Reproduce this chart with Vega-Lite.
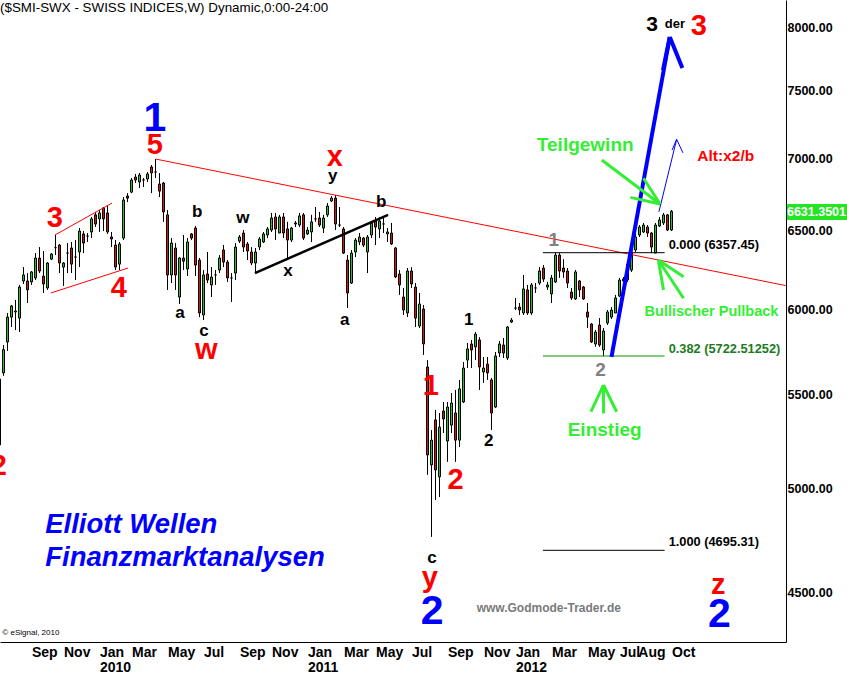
{
"$schema":"https://vega.github.io/schema/vega-lite/v6.json",
"width":786,"height":642,
"autosize":{"type":"none"},
"padding":{"left":0,"top":0,"right":61,"bottom":31},
"background":"white",
"config":{"view":{"stroke":null},"font":"Liberation Sans"},
"title":{"text":"($SMI-SWX - SWISS INDICES,W) Dynamic,0:00-24:00","anchor":"start","frame":"group","orient":"top","offset":-14,"fontSize":13.4,"fontWeight":"normal","font":"Liberation Sans","color":"#000"},
"datasets":{
"candles":[
{"d":"2009-07-13","o":5227,"h":5600,"l":5215,"c":5590},
{"d":"2009-07-20","o":5625,"h":5787,"l":5608,"c":5760},
{"d":"2009-07-27","o":5805,"h":5979,"l":5752,"c":5954},
{"d":"2009-08-03","o":5954,"h":6028,"l":5894,"c":6022},
{"d":"2009-08-10","o":5985,"h":6059,"l":5876,"c":5991},
{"d":"2009-08-17","o":5948,"h":6152,"l":5864,"c":6139},
{"d":"2009-08-24","o":6177,"h":6265,"l":6158,"c":6215},
{"d":"2009-08-31","o":6177,"h":6227,"l":6040,"c":6121},
{"d":"2009-09-07","o":6171,"h":6240,"l":6152,"c":6234},
{"d":"2009-09-14","o":6196,"h":6355,"l":6183,"c":6323},
{"d":"2009-09-21","o":6323,"h":6394,"l":6227,"c":6240},
{"d":"2009-09-28","o":6208,"h":6368,"l":6102,"c":6158},
{"d":"2009-10-05","o":6133,"h":6297,"l":6121,"c":6291},
{"d":"2009-10-12","o":6316,"h":6355,"l":6310,"c":6349},
{"d":"2009-10-19","o":6390,"h":6473,"l":6342,"c":6390},
{"d":"2009-10-26","o":6407,"h":6414,"l":6227,"c":6291},
{"d":"2009-11-02","o":6265,"h":6297,"l":6146,"c":6291},
{"d":"2009-11-09","o":6355,"h":6420,"l":6227,"c":6355},
{"d":"2009-11-16","o":6388,"h":6427,"l":6227,"c":6284},
{"d":"2009-11-23","o":6329,"h":6440,"l":6183,"c":6329},
{"d":"2009-11-30","o":6362,"h":6519,"l":6265,"c":6499},
{"d":"2009-12-07","o":6480,"h":6499,"l":6355,"c":6420},
{"d":"2009-12-14","o":6466,"h":6486,"l":6427,"c":6466},
{"d":"2009-12-21","o":6493,"h":6593,"l":6453,"c":6580},
{"d":"2009-12-28","o":6607,"h":6627,"l":6526,"c":6546},
{"d":"2010-01-04","o":6580,"h":6640,"l":6493,"c":6620},
{"d":"2010-01-11","o":6654,"h":6660,"l":6499,"c":6580},
{"d":"2010-01-18","o":6620,"h":6674,"l":6480,"c":6493},
{"d":"2010-01-25","o":6460,"h":6493,"l":6394,"c":6447},
{"d":"2010-02-01","o":6407,"h":6440,"l":6246,"c":6265},
{"d":"2010-02-08","o":6284,"h":6427,"l":6246,"c":6414},
{"d":"2010-02-15","o":6453,"h":6728,"l":6440,"c":6708},
{"d":"2010-02-22","o":6735,"h":6755,"l":6694,"c":6721},
{"d":"2010-03-01","o":6762,"h":6860,"l":6755,"c":6846},
{"d":"2010-03-08","o":6867,"h":6888,"l":6825,"c":6846},
{"d":"2010-03-15","o":6832,"h":6895,"l":6790,"c":6881},
{"d":"2010-03-22","o":6846,"h":6860,"l":6797,"c":6846},
{"d":"2010-03-29","o":6853,"h":6902,"l":6832,"c":6888},
{"d":"2010-04-05","o":6937,"h":6951,"l":6755,"c":6895},
{"d":"2010-04-12","o":6902,"h":6994,"l":6860,"c":6902},
{"d":"2010-04-19","o":6818,"h":6895,"l":6728,"c":6769},
{"d":"2010-04-26","o":6825,"h":6832,"l":6560,"c":6627},
{"d":"2010-05-03","o":6607,"h":6640,"l":6121,"c":6215},
{"d":"2010-05-10","o":6215,"h":6453,"l":6164,"c":6420},
{"d":"2010-05-17","o":6388,"h":6420,"l":6121,"c":6215},
{"d":"2010-05-24","o":6077,"h":6329,"l":6034,"c":6323},
{"d":"2010-05-31","o":6323,"h":6473,"l":6246,"c":6303},
{"d":"2010-06-07","o":6253,"h":6453,"l":6208,"c":6427},
{"d":"2010-06-14","o":6480,"h":6486,"l":6440,"c":6453},
{"d":"2010-06-21","o":6519,"h":6533,"l":6208,"c":6278},
{"d":"2010-06-28","o":6310,"h":6323,"l":5954,"c":5979},
{"d":"2010-07-05","o":5967,"h":6246,"l":5936,"c":6215},
{"d":"2010-07-12","o":6221,"h":6362,"l":6164,"c":6183},
{"d":"2010-07-19","o":6152,"h":6265,"l":6077,"c":6202},
{"d":"2010-07-26","o":6215,"h":6246,"l":6152,"c":6215},
{"d":"2010-08-02","o":6246,"h":6342,"l":6227,"c":6323},
{"d":"2010-08-09","o":6375,"h":6407,"l":6265,"c":6297},
{"d":"2010-08-16","o":6297,"h":6310,"l":6171,"c":6196},
{"d":"2010-08-23","o":6196,"h":6227,"l":6046,"c":6196},
{"d":"2010-08-30","o":6227,"h":6420,"l":6183,"c":6394},
{"d":"2010-09-06","o":6433,"h":6473,"l":6420,"c":6460},
{"d":"2010-09-13","o":6486,"h":6506,"l":6362,"c":6394},
{"d":"2010-09-20","o":6414,"h":6427,"l":6310,"c":6368},
{"d":"2010-09-27","o":6362,"h":6394,"l":6278,"c":6291},
{"d":"2010-10-04","o":6291,"h":6388,"l":6227,"c":6362},
{"d":"2010-10-11","o":6394,"h":6460,"l":6375,"c":6447},
{"d":"2010-10-18","o":6427,"h":6493,"l":6420,"c":6480},
{"d":"2010-10-25","o":6473,"h":6526,"l":6453,"c":6513},
{"d":"2010-11-01","o":6506,"h":6620,"l":6493,"c":6586},
{"d":"2010-11-08","o":6593,"h":6620,"l":6440,"c":6513},
{"d":"2010-11-15","o":6486,"h":6607,"l":6486,"c":6593},
{"d":"2010-11-22","o":6593,"h":6620,"l":6453,"c":6486},
{"d":"2010-11-29","o":6513,"h":6560,"l":6310,"c":6440},
{"d":"2010-12-06","o":6440,"h":6526,"l":6427,"c":6519},
{"d":"2010-12-13","o":6553,"h":6566,"l":6526,"c":6546},
{"d":"2010-12-20","o":6539,"h":6620,"l":6526,"c":6600},
{"d":"2010-12-27","o":6607,"h":6620,"l":6440,"c":6453},
{"d":"2011-01-03","o":6480,"h":6526,"l":6473,"c":6506},
{"d":"2011-01-10","o":6493,"h":6607,"l":6427,"c":6560},
{"d":"2011-01-17","o":6580,"h":6660,"l":6560,"c":6580},
{"d":"2011-01-24","o":6586,"h":6627,"l":6526,"c":6539},
{"d":"2011-01-31","o":6519,"h":6607,"l":6486,"c":6586},
{"d":"2011-02-07","o":6607,"h":6687,"l":6593,"c":6667},
{"d":"2011-02-14","o":6701,"h":6735,"l":6694,"c":6721},
{"d":"2011-02-21","o":6721,"h":6742,"l":6506,"c":6546},
{"d":"2011-02-28","o":6539,"h":6660,"l":6526,"c":6539},
{"d":"2011-03-07","o":6513,"h":6526,"l":6349,"c":6355},
{"d":"2011-03-14","o":6310,"h":6342,"l":6009,"c":6102},
{"d":"2011-03-21","o":6164,"h":6375,"l":6158,"c":6355},
{"d":"2011-03-28","o":6362,"h":6453,"l":6329,"c":6440},
{"d":"2011-04-04","o":6427,"h":6486,"l":6407,"c":6460},
{"d":"2011-04-11","o":6453,"h":6460,"l":6394,"c":6407},
{"d":"2011-04-18","o":6362,"h":6473,"l":6227,"c":6460},
{"d":"2011-04-25","o":6473,"h":6560,"l":6453,"c":6553},
{"d":"2011-05-02","o":6566,"h":6593,"l":6407,"c":6526},
{"d":"2011-05-09","o":6513,"h":6593,"l":6453,"c":6566},
{"d":"2011-05-16","o":6546,"h":6593,"l":6486,"c":6546},
{"d":"2011-05-23","o":6480,"h":6519,"l":6427,"c":6493},
{"d":"2011-05-30","o":6486,"h":6553,"l":6407,"c":6414},
{"d":"2011-06-06","o":6388,"h":6394,"l":6196,"c":6202},
{"d":"2011-06-13","o":6221,"h":6246,"l":6090,"c":6152},
{"d":"2011-06-20","o":6077,"h":6133,"l":5967,"c":5997},
{"d":"2011-06-27","o":5979,"h":6259,"l":5954,"c":6240},
{"d":"2011-07-04","o":6240,"h":6265,"l":6133,"c":6158},
{"d":"2011-07-11","o":6139,"h":6164,"l":5894,"c":5948},
{"d":"2011-07-18","o":5900,"h":6102,"l":5888,"c":6034},
{"d":"2011-07-25","o":6003,"h":6028,"l":5729,"c":5793},
{"d":"2011-08-01","o":5659,"h":5699,"l":5070,"c":5174},
{"d":"2011-08-08","o":5122,"h":5307,"l":4760,"c":5253},
{"d":"2011-08-15","o":5362,"h":5417,"l":4942,"c":5096},
{"d":"2011-08-22","o":5060,"h":5400,"l":4957,"c":5323},
{"d":"2011-08-29","o":5411,"h":5461,"l":5291,"c":5367},
{"d":"2011-09-05","o":5248,"h":5461,"l":5138,"c":5433},
{"d":"2011-09-12","o":5334,"h":5511,"l":5291,"c":5455},
{"d":"2011-09-19","o":5400,"h":5528,"l":5138,"c":5253},
{"d":"2011-09-26","o":5253,"h":5585,"l":5216,"c":5534},
{"d":"2011-10-03","o":5461,"h":5688,"l":5455,"c":5653},
{"d":"2011-10-10","o":5699,"h":5799,"l":5653,"c":5764},
{"d":"2011-10-17","o":5793,"h":5817,"l":5653,"c":5758},
{"d":"2011-10-24","o":5776,"h":5864,"l":5699,"c":5852},
{"d":"2011-10-31","o":5817,"h":5834,"l":5528,"c":5659},
{"d":"2011-11-07","o":5630,"h":5717,"l":5568,"c":5653},
{"d":"2011-11-14","o":5676,"h":5717,"l":5585,"c":5625},
{"d":"2011-11-21","o":5585,"h":5596,"l":5307,"c":5400},
{"d":"2011-11-28","o":5433,"h":5746,"l":5427,"c":5723},
{"d":"2011-12-05","o":5740,"h":5811,"l":5717,"c":5793},
{"d":"2011-12-12","o":5787,"h":5829,"l":5711,"c":5740},
{"d":"2011-12-19","o":5711,"h":5900,"l":5699,"c":5894},
{"d":"2011-12-26","o":5924,"h":5948,"l":5918,"c":5936},
{"d":"2012-01-02","o":6009,"h":6071,"l":5997,"c":6009},
{"d":"2012-01-09","o":6015,"h":6040,"l":5967,"c":5997},
{"d":"2012-01-16","o":5979,"h":6215,"l":5967,"c":6127},
{"d":"2012-01-23","o":6121,"h":6152,"l":5967,"c":5979},
{"d":"2012-01-30","o":5979,"h":6164,"l":5967,"c":6152},
{"d":"2012-02-06","o":6133,"h":6164,"l":6102,"c":6133},
{"d":"2012-02-13","o":6164,"h":6265,"l":6152,"c":6240},
{"d":"2012-02-20","o":6259,"h":6278,"l":6171,"c":6189},
{"d":"2012-02-27","o":6139,"h":6171,"l":6121,"c":6152},
{"d":"2012-03-05","o":6096,"h":6215,"l":6040,"c":6196},
{"d":"2012-03-12","o":6171,"h":6357,"l":6164,"c":6342},
{"d":"2012-03-19","o":6342,"h":6355,"l":6196,"c":6240},
{"d":"2012-03-26","o":6259,"h":6316,"l":6196,"c":6234},
{"d":"2012-04-02","o":6240,"h":6259,"l":6133,"c":6164},
{"d":"2012-04-09","o":6108,"h":6133,"l":6059,"c":6071},
{"d":"2012-04-16","o":6065,"h":6246,"l":6059,"c":6234},
{"d":"2012-04-23","o":6177,"h":6183,"l":6077,"c":6121},
{"d":"2012-04-30","o":6139,"h":6146,"l":6059,"c":6065},
{"d":"2012-05-07","o":5985,"h":6040,"l":5888,"c":5954},
{"d":"2012-05-14","o":5912,"h":5918,"l":5799,"c":5805},
{"d":"2012-05-21","o":5793,"h":5876,"l":5776,"c":5864},
{"d":"2012-05-28","o":5906,"h":5948,"l":5776,"c":5787},
{"d":"2012-06-04","o":5758,"h":5888,"l":5722,"c":5870},
{"d":"2012-06-11","o":5918,"h":5997,"l":5906,"c":5985},
{"d":"2012-06-18","o":5954,"h":6015,"l":5942,"c":5997},
{"d":"2012-06-25","o":5979,"h":6090,"l":5979,"c":6071},
{"d":"2012-07-02","o":6083,"h":6196,"l":6077,"c":6183},
{"d":"2012-07-09","o":6189,"h":6202,"l":6171,"c":6177},
{"d":"2012-07-16","o":6183,"h":6291,"l":6171,"c":6284},
{"d":"2012-07-23","o":6246,"h":6362,"l":6234,"c":6355},
{"d":"2012-07-30","o":6375,"h":6486,"l":6362,"c":6460},
{"d":"2012-08-06","o":6473,"h":6539,"l":6460,"c":6526},
{"d":"2012-08-13","o":6493,"h":6553,"l":6486,"c":6539},
{"d":"2012-08-20","o":6526,"h":6539,"l":6460,"c":6486},
{"d":"2012-08-27","o":6486,"h":6493,"l":6355,"c":6394},
{"d":"2012-09-03","o":6355,"h":6553,"l":6355,"c":6539},
{"d":"2012-09-10","o":6533,"h":6593,"l":6526,"c":6573},
{"d":"2012-09-17","o":6553,"h":6620,"l":6539,"c":6607},
{"d":"2012-09-24","o":6607,"h":6613,"l":6499,"c":6506},
{"d":"2012-10-01","o":6506,"h":6640,"l":6499,"c":6631.35}
],
"segments":[
{"d1":"2010-04-13","v1":6993,"d2":"2013-04-19","v2":6148,"kind":"red"},
{"d1":"2009-10-18","v1":6473,"d2":"2010-01-26","v2":6687,"kind":"red"},
{"d1":"2009-10-11","v1":6102,"d2":"2010-02-23","v2":6259,"kind":"red"},
{"d1":"2010-10-03","v1":6227,"d2":"2011-05-24","v2":6607,"kind":"blackThick"},
{"d1":"2012-06-18","v1":5718,"d2":"2012-09-28","v2":7919,"kind":"blueThick"},
{"d1":"2012-09-16","v1":7657,"d2":"2012-09-28","v2":7919,"kind":"blueThick"},
{"d1":"2012-10-20","v1":7673,"d2":"2012-09-28","v2":7919,"kind":"blueThick"},
{"d1":"2012-09-09","v1":6628,"d2":"2012-10-10","v2":7135,"kind":"blueThin"},
{"d1":"2012-10-02","v1":7058,"d2":"2012-10-10","v2":7135,"kind":"blueThin"},
{"d1":"2012-10-21","v1":7038,"d2":"2012-10-10","v2":7135,"kind":"blueThin"},
{"d1":"2012-02-19","v1":6357.45,"d2":"2012-09-19","v2":6357.45,"kind":"fibBlack"},
{"d1":"2012-02-19","v1":4695.31,"d2":"2012-09-19","v2":4695.31,"kind":"fibBlack"},
{"d1":"2012-02-19","v1":5722.51,"d2":"2012-09-19","v2":5722.51,"kind":"fibGreen"},
{"d1":"2012-06-01","v1":6987,"d2":"2012-09-11","v2":6681,"kind":"arrow"},
{"d1":"2012-08-13","v1":6858,"d2":"2012-09-11","v2":6681,"kind":"arrow"},
{"d1":"2012-07-21","v1":6726,"d2":"2012-09-11","v2":6681,"kind":"arrow"},
{"d1":"2012-09-08","v1":6310,"d2":"2012-10-22","v2":6204,"kind":"arrow"},
{"d1":"2012-09-08","v1":6310,"d2":"2012-09-17","v2":6121,"kind":"arrow"},
{"d1":"2012-09-08","v1":6310,"d2":"2012-10-22","v2":6069,"kind":"arrow"},
{"d1":"2012-06-04","v1":5556,"d2":"2012-05-13","v2":5407,"kind":"arrow"},
{"d1":"2012-06-04","v1":5556,"d2":"2012-06-04","v2":5398,"kind":"arrow"},
{"d1":"2012-06-04","v1":5556,"d2":"2012-06-27","v2":5407,"kind":"arrow"}
],
"labels":[
{"d":"2010-04-11","v":7288,"t":"1","kind":"blueBig"},
{"d":"2011-08-09","v":4410,"t":"2","kind":"blueBig"},
{"d":"2012-12-24","v":4396,"t":"2","kind":"blueBig"},
{"d":"2010-04-11","v":7095,"t":"5","kind":"redBig"},
{"d":"2009-10-18","v":6586,"t":"3","kind":"redBig"},
{"d":"2010-02-07","v":6133,"t":"4","kind":"redBig"},
{"d":"2010-07-10","v":5758,"t":"w","kind":"redBig"},
{"d":"2011-02-20","v":7008,"t":"x","kind":"redBig"},
{"d":"2011-08-07","v":5551,"t":"1","kind":"redBig"},
{"d":"2011-09-19","v":5044,"t":"2","kind":"redBig"},
{"d":"2011-08-05","v":4565,"t":"y","kind":"redBig"},
{"d":"2012-12-22","v":4533,"t":"z","kind":"redBig"},
{"d":"2012-11-18","v":8008,"t":"3","kind":"redBig"},
{"d":"2009-07-12","v":5116,"t":"2","kind":"redBig"},
{"d":"2010-06-24","v":6627,"t":"b","kind":"black"},
{"d":"2010-05-25","v":5979,"t":"a","kind":"black"},
{"d":"2010-07-06","v":5870,"t":"c","kind":"black"},
{"d":"2010-09-12","v":6586,"t":"w","kind":"black"},
{"d":"2010-11-30","v":6240,"t":"x","kind":"black"},
{"d":"2011-02-16","v":6874,"t":"y","kind":"black"},
{"d":"2011-05-12","v":6694,"t":"b","kind":"black"},
{"d":"2011-03-09","v":5936,"t":"a","kind":"black"},
{"d":"2011-10-12","v":5936,"t":"1","kind":"black"},
{"d":"2011-11-16","v":5248,"t":"2","kind":"black"},
{"d":"2011-08-09","v":4659,"t":"c","kind":"black"},
{"d":"2012-03-09","v":6440,"t":"1","kind":"grey"},
{"d":"2012-05-30","v":5642,"t":"2","kind":"grey"},
{"d":"2012-06-06","v":5307,"t":"Einstieg","kind":"greenBig"},
{"d":"2012-05-03","v":7095,"t":"Teilgewinn","kind":"greenBig"},
{"d":"2012-12-10","v":5985,"t":"Bullischer Pullback","kind":"greenSmall"},
{"d":"2013-01-04","v":7015,"t":"Alt:x2/b","kind":"redMid"},
{"d":"2012-09-26","v":6407,"t":"0.000 (6357.45)","kind":"fibBlack"},
{"d":"2012-09-26","v":4735,"t":"1.000 (4695.31)","kind":"fibBlack"},
{"d":"2012-09-26","v":5763,"t":"0.382 (5722.51252)","kind":"fibGreen"},
{"d":"2012-08-28","v":8016,"t":"3","kind":"black3"},
{"d":"2012-10-07","v":8024,"t":"der","kind":"der"},
{"d":"2009-10-01","v":4818,"t":"Elliott Wellen","kind":"brand"},
{"d":"2009-10-01","v":4659,"t":"Finanzmarktanalysen","kind":"brand"},
{"d":"2011-10-26","v":4427,"t":"www.Godmode-Trader.de","kind":"url"},
{"d":"2009-07-18","v":4316,"t":"© eSignal, 2010","kind":"copy"}
],
"last":[{"d1":"2013-04-21","d2":"2013-08-10","v1":6573,"v2":6681,"d":"2013-04-21","v":6627,"t":"6631.3501"}]
},
"layer":[
{"data":{"name":"candles"},"mark":{"type":"rule","color":"#000","strokeWidth":1},
 "encoding":{
  "x":{"field":"d","type":"temporal","scale":{"type":"utc","domain":[1247518800000,1366362000000],"nice":false,"padding":0},
   "axis":{"title":null,"orient":"bottom","values":[
    {"year":2009,"month":9,"date":7,"utc":true},{"year":2009,"month":11,"date":2,"utc":true},
    {"year":2010,"month":1,"date":4,"utc":true},{"year":2010,"month":3,"date":1,"utc":true},
    {"year":2010,"month":5,"date":3,"utc":true},{"year":2010,"month":7,"date":5,"utc":true},
    {"year":2010,"month":9,"date":6,"utc":true},{"year":2010,"month":11,"date":1,"utc":true},
    {"year":2011,"month":1,"date":3,"utc":true},{"year":2011,"month":3,"date":7,"utc":true},
    {"year":2011,"month":5,"date":2,"utc":true},{"year":2011,"month":7,"date":4,"utc":true},
    {"year":2011,"month":9,"date":5,"utc":true},{"year":2011,"month":11,"date":7,"utc":true},
    {"year":2012,"month":1,"date":2,"utc":true},{"year":2012,"month":3,"date":5,"utc":true},
    {"year":2012,"month":5,"date":7,"utc":true},{"year":2012,"month":7,"date":2,"utc":true},
    {"year":2012,"month":8,"date":3,"utc":true},{"year":2012,"month":10,"date":1,"utc":true}],
    "labelExpr":"utcmonth(datum.value)==0 ? [utcFormat(datum.value,'%b'), utcFormat(datum.value,'%Y')] : utcFormat(datum.value,'%b')",
    "labelAlign":"left","labelBaseline":"top","labelPadding":3,"labelFont":"Liberation Sans Narrow, Liberation Sans","labelFontSize":14,"labelFontWeight":"bold","labelColor":"#000","labelLineHeight":15,
    "labelOverlap":false,"labelFlush":false,"labelBound":false,"ticks":false,"grid":false,"domain":true,"domainColor":"#000","domainWidth":1}},
  "y":{"field":"l","type":"quantitative","scale":{"type":"log","domain":[4276.8,8223],"nice":false,"zero":false},
   "axis":{"title":null,"orient":"right","values":[4500,5000,5500,6000,6500,7000,7500,8000],"format":".2f",
    "labelFont":"Liberation Sans","labelFontSize":12.5,"labelFontWeight":"bold","labelColor":"#000","labelPadding":1,"labelAlign":"left","labelBaseline":"middle",
    "ticks":false,"grid":false,"domain":true,"domainColor":"#000","domainWidth":1,"labelOverlap":false,"labelBound":false,"labelFlush":false}},
  "y2":{"field":"h"}}},
{"data":{"name":"candles"},"mark":{"type":"bar","width":2,"stroke":"#000","strokeWidth":1},
 "encoding":{
  "x":{"field":"d","type":"temporal","axis":{"title":null}},
  "y":{"field":"o","type":"quantitative","axis":{"title":null}},
  "y2":{"field":"c"},
  "fill":{"condition":{"test":"datum.c > datum.o","value":"#22c322"},"value":"#d21414"}}},
{"data":{"name":"segments"},"transform":[{"filter":"datum.kind=='red'"}],"mark":{"type":"rule","color":"#ff0000","strokeWidth":1,"clip":true},
 "encoding":{"x":{"field":"d1","type":"temporal","axis":{"title":null}},"x2":{"field":"d2"},"y":{"field":"v1","type":"quantitative","axis":{"title":null}},"y2":{"field":"v2"}}},
{"data":{"name":"segments"},"transform":[{"filter":"datum.kind=='blackThick'"}],"mark":{"type":"rule","color":"#000","strokeWidth":2.5},
 "encoding":{"x":{"field":"d1","type":"temporal","axis":{"title":null}},"x2":{"field":"d2"},"y":{"field":"v1","type":"quantitative","axis":{"title":null}},"y2":{"field":"v2"}}},
{"data":{"name":"segments"},"transform":[{"filter":"datum.kind=='fibBlack'"}],"mark":{"type":"rule","color":"#000","strokeWidth":1},
 "encoding":{"x":{"field":"d1","type":"temporal","axis":{"title":null}},"x2":{"field":"d2"},"y":{"field":"v1","type":"quantitative","axis":{"title":null}},"y2":{"field":"v2"}}},
{"data":{"name":"segments"},"transform":[{"filter":"datum.kind=='fibGreen'"}],"mark":{"type":"rule","color":"#009a00","strokeWidth":1},
 "encoding":{"x":{"field":"d1","type":"temporal","axis":{"title":null}},"x2":{"field":"d2"},"y":{"field":"v1","type":"quantitative","axis":{"title":null}},"y2":{"field":"v2"}}},
{"data":{"name":"segments"},"transform":[{"filter":"datum.kind=='blueThick'"}],"mark":{"type":"rule","color":"#0000ff","strokeWidth":4},
 "encoding":{"x":{"field":"d1","type":"temporal","axis":{"title":null}},"x2":{"field":"d2"},"y":{"field":"v1","type":"quantitative","axis":{"title":null}},"y2":{"field":"v2"}}},
{"data":{"name":"segments"},"transform":[{"filter":"datum.kind=='blueThin'"}],"mark":{"type":"rule","color":"#0000ff","strokeWidth":1},
 "encoding":{"x":{"field":"d1","type":"temporal","axis":{"title":null}},"x2":{"field":"d2"},"y":{"field":"v1","type":"quantitative","axis":{"title":null}},"y2":{"field":"v2"}}},
{"data":{"name":"segments"},"transform":[{"filter":"datum.kind=='arrow'"}],"mark":{"type":"rule","color":"#33ee33","strokeWidth":3},
 "encoding":{"x":{"field":"d1","type":"temporal","axis":{"title":null}},"x2":{"field":"d2"},"y":{"field":"v1","type":"quantitative","axis":{"title":null}},"y2":{"field":"v2"}}},
{"data":{"name":"labels"},"transform":[{"filter":"datum.kind=='blueBig'"}],"mark":{"type":"text","color":"#0000ff","fontSize":41,"fontWeight":"bold","align":"center","baseline":"middle"},
 "encoding":{"x":{"field":"d","type":"temporal","axis":{"title":null}},"y":{"field":"v","type":"quantitative","axis":{"title":null}},"text":{"field":"t"}}},
{"data":{"name":"labels"},"transform":[{"filter":"datum.kind=='redBig'"}],"mark":{"type":"text","color":"#ff0000","fontSize":29,"fontWeight":"bold","align":"center","baseline":"middle"},
 "encoding":{"x":{"field":"d","type":"temporal","axis":{"title":null}},"y":{"field":"v","type":"quantitative","axis":{"title":null}},"text":{"field":"t"}}},
{"data":{"name":"labels"},"transform":[{"filter":"datum.kind=='black'"}],"mark":{"type":"text","color":"#000","fontSize":17,"fontWeight":"bold","align":"center","baseline":"middle"},
 "encoding":{"x":{"field":"d","type":"temporal","axis":{"title":null}},"y":{"field":"v","type":"quantitative","axis":{"title":null}},"text":{"field":"t"}}},
{"data":{"name":"labels"},"transform":[{"filter":"datum.kind=='grey'"}],"mark":{"type":"text","color":"#808080","fontSize":19,"fontWeight":"bold","align":"center","baseline":"middle"},
 "encoding":{"x":{"field":"d","type":"temporal","axis":{"title":null}},"y":{"field":"v","type":"quantitative","axis":{"title":null}},"text":{"field":"t"}}},
{"data":{"name":"labels"},"transform":[{"filter":"datum.kind=='greenBig'"}],"mark":{"type":"text","color":"#33ee33","fontSize":19,"fontWeight":"bold","align":"center","baseline":"middle"},
 "encoding":{"x":{"field":"d","type":"temporal","axis":{"title":null}},"y":{"field":"v","type":"quantitative","axis":{"title":null}},"text":{"field":"t"}}},
{"data":{"name":"labels"},"transform":[{"filter":"datum.kind=='greenSmall'"}],"mark":{"type":"text","color":"#33ee33","fontSize":14.5,"fontWeight":"bold","align":"center","baseline":"middle"},
 "encoding":{"x":{"field":"d","type":"temporal","axis":{"title":null}},"y":{"field":"v","type":"quantitative","axis":{"title":null}},"text":{"field":"t"}}},
{"data":{"name":"labels"},"transform":[{"filter":"datum.kind=='redMid'"}],"mark":{"type":"text","color":"#ff0000","fontSize":15.5,"fontWeight":"bold","align":"center","baseline":"middle"},
 "encoding":{"x":{"field":"d","type":"temporal","axis":{"title":null}},"y":{"field":"v","type":"quantitative","axis":{"title":null}},"text":{"field":"t"}}},
{"data":{"name":"labels"},"transform":[{"filter":"datum.kind=='fibBlack'"}],"mark":{"type":"text","color":"#000","fontSize":12.8,"fontWeight":"bold","align":"left","baseline":"middle"},
 "encoding":{"x":{"field":"d","type":"temporal","axis":{"title":null}},"y":{"field":"v","type":"quantitative","axis":{"title":null}},"text":{"field":"t"}}},
{"data":{"name":"labels"},"transform":[{"filter":"datum.kind=='fibGreen'"}],"mark":{"type":"text","color":"#1e7a1e","fontSize":12.8,"fontWeight":"bold","align":"left","baseline":"middle"},
 "encoding":{"x":{"field":"d","type":"temporal","axis":{"title":null}},"y":{"field":"v","type":"quantitative","axis":{"title":null}},"text":{"field":"t"}}},
{"data":{"name":"labels"},"transform":[{"filter":"datum.kind=='black3'"}],"mark":{"type":"text","color":"#000","fontSize":21,"fontWeight":"bold","align":"center","baseline":"middle"},
 "encoding":{"x":{"field":"d","type":"temporal","axis":{"title":null}},"y":{"field":"v","type":"quantitative","axis":{"title":null}},"text":{"field":"t"}}},
{"data":{"name":"labels"},"transform":[{"filter":"datum.kind=='der'"}],"mark":{"type":"text","color":"#000","fontSize":13,"fontWeight":"bold","align":"center","baseline":"middle"},
 "encoding":{"x":{"field":"d","type":"temporal","axis":{"title":null}},"y":{"field":"v","type":"quantitative","axis":{"title":null}},"text":{"field":"t"}}},
{"data":{"name":"labels"},"transform":[{"filter":"datum.kind=='brand'"}],"mark":{"type":"text","color":"#0000ff","fontSize":27.5,"fontWeight":"bold","fontStyle":"italic","align":"left","baseline":"middle"},
 "encoding":{"x":{"field":"d","type":"temporal","axis":{"title":null}},"y":{"field":"v","type":"quantitative","axis":{"title":null}},"text":{"field":"t"}}},
{"data":{"name":"labels"},"transform":[{"filter":"datum.kind=='url'"}],"mark":{"type":"text","color":"#7a7a7a","fontSize":12,"fontWeight":"bold","align":"left","baseline":"middle"},
 "encoding":{"x":{"field":"d","type":"temporal","axis":{"title":null}},"y":{"field":"v","type":"quantitative","axis":{"title":null}},"text":{"field":"t"}}},
{"data":{"name":"labels"},"transform":[{"filter":"datum.kind=='copy'"}],"mark":{"type":"text","color":"#000","fontSize":8,"align":"left","baseline":"middle"},
 "encoding":{"x":{"field":"d","type":"temporal","axis":{"title":null}},"y":{"field":"v","type":"quantitative","axis":{"title":null}},"text":{"field":"t"}}},
{"data":{"name":"last"},"mark":{"type":"rect","color":"#22e622"},
 "encoding":{"x":{"field":"d1","type":"temporal","axis":{"title":null}},"x2":{"field":"d2"},"y":{"field":"v1","type":"quantitative","axis":{"title":null}},"y2":{"field":"v2"}}},
{"data":{"name":"last"},"mark":{"type":"text","color":"#ffffff","fontSize":12.5,"fontWeight":"bold","align":"left","baseline":"middle"},
 "encoding":{"x":{"field":"d","type":"temporal","axis":{"title":null}},"y":{"field":"v","type":"quantitative","axis":{"title":null}},"text":{"field":"t"}}}
]
}
